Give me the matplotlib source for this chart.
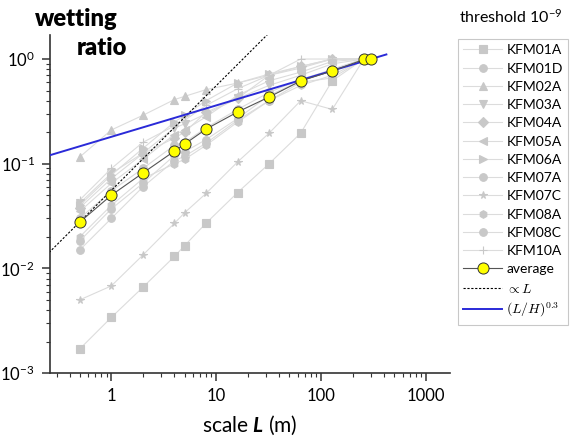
import numpy as np
import matplotlib
matplotlib.use('Agg')
import matplotlib.pyplot as plt
from matplotlib.font_manager import FontProperties
from matplotlib.ticker import LogLocator, FixedLocator, FixedFormatter, NullFormatter

plt.rcParams['font.family'] = ['Lato', 'DejaVu Sans']
plt.rcParams['mathtext.fontset'] = 'custom'
plt.rcParams['mathtext.rm'] = 'Lato'
plt.rcParams['mathtext.it'] = 'Lato:italic'
plt.rcParams['mathtext.bf'] = 'Lato:bold'
plt.rcParams['mathtext.bfit'] = 'Lato:bold:italic'

#scales (m)
L = [0.5, 1, 2, 4, 5, 8, 16, 32, 64, 128, 256]

#wetting ratio per borehole
wells = ['KFM01A', 'KFM01D', 'KFM02A', 'KFM03A', 'KFM04A', 'KFM05A',
         'KFM06A', 'KFM07A', 'KFM07C', 'KFM08A', 'KFM08C', 'KFM10A']
well_markers = ['s', 'o', '^', 'v', 'D', '<', '>', 'o', '*', 'h', 'o', '+']

kfm01a = [0.0017, 0.0034, 0.0066, 0.013, 0.0165, 0.027, 0.053, 0.10, 0.196, 0.62, 1.0]
kfm01d = [0.015, 0.030, 0.060, 0.107, 0.118, 0.157, 0.26, 0.40, 0.60, 0.66, 1.0]
kfm02a = [0.116, 0.21, 0.29, 0.41, 0.44, 0.51, 0.59, 0.70, 0.82, 1.0, 1.0]
kfm03a = [0.042, 0.081, 0.126, 0.22, 0.24, 0.30, 0.42, 0.56, 0.70, 0.90, 1.0]
kfm04a = [0.038, 0.072, 0.125, 0.176, 0.20, 0.31, 0.42, 0.70, 0.85, 1.0, 1.0]
kfm05a = [0.035, 0.065, 0.11, 0.19, 0.21, 0.28, 0.45, 0.62, 0.75, 0.95, 1.0]
kfm06a = [0.040, 0.078, 0.14, 0.25, 0.29, 0.40, 0.59, 0.72, 0.85, 1.0, 1.0]
kfm07a = [0.030, 0.055, 0.09, 0.15, 0.16, 0.22, 0.33, 0.48, 0.64, 0.79, 1.0]
kfm07c = [0.005, 0.0068, 0.0134, 0.027, 0.034, 0.052, 0.104, 0.196, 0.40, 0.33, 1.0]
kfm08a = [0.020, 0.040, 0.072, 0.10, 0.11, 0.15, 0.25, 0.40, 0.56, 0.70, 1.0]
kfm08c = [0.0183, 0.037, 0.065, 0.12, 0.13, 0.17, 0.27, 0.45, 0.62, 0.80, 1.0]
kfm10a = [0.045, 0.090, 0.16, 0.23, 0.26, 0.36, 0.52, 0.70, 1.0, 1.0, 1.0]

well_vals = [kfm01a, kfm01d, kfm02a, kfm03a, kfm04a, kfm05a,
             kfm06a, kfm07a, kfm07c, kfm08a, kfm08c, kfm10a]

#average over boreholes
L_avg = [0.5, 1, 2, 4, 5, 8, 16, 32, 64, 128, 256, 300]
avg = [0.0277, 0.050, 0.0815, 0.132, 0.154, 0.214, 0.312, 0.434, 0.617, 0.77, 0.99, 1.0]

#guide lines
H = 300.
prop_coef = 0.0556
L_prop = [0.2, 40]
L_pow = [0.2, 420]

fig = plt.figure(figsize=(5.84, 4.42), dpi=100)
ax = fig.add_axes([0.0856, 0.156, 0.685, 0.765])

for name, mk, vals in zip(wells, well_markers, well_vals):
    ax.plot(L, vals, color='#dcdcdc', lw=0.8, marker=mk, ms=5.5,
            mfc='#c8c8c8', mec='#c8c8c8', mew=0.8, label=name)

ax.plot(L_avg, avg, color='#555555', lw=0.8, marker='o', ms=8,
        mfc='#ffff00', mec='#333333', mew=0.7, label='average', zorder=5)

xp = np.array(L_prop)
ax.plot(xp, prop_coef*xp, color='black', lw=0.8, ls=(0, (2, 1.5)),
        label=r'$\propto L$', zorder=4)
xq = np.array(L_pow)
ax.plot(xq, (xq/H)**0.3, color='#2a2ad8', lw=1.4,
        label=r'$(L/H)^{0.3}$', zorder=4)

ax.set_xscale('log')
ax.set_yscale('log')
ax.set_xlim(0.26, 1700)
ax.set_ylim(1e-3, 1.7)

ax.spines['top'].set_visible(False)
ax.spines['right'].set_visible(False)
for s in ['left', 'bottom']:
    ax.spines[s].set_color('#333333')
    ax.spines[s].set_linewidth(1.2)

ax.xaxis.set_major_locator(FixedLocator([1, 10, 100, 1000]))
ax.xaxis.set_major_formatter(FixedFormatter(['1', '10', '100', '1000']))
ax.xaxis.set_minor_locator(LogLocator(base=10, subs=np.arange(2, 10)))
ax.xaxis.set_minor_formatter(NullFormatter())
ax.yaxis.set_major_locator(FixedLocator([1e-3, 1e-2, 1e-1, 1]))
ax.yaxis.set_major_formatter(FixedFormatter([r'10$^{-3}$', r'10$^{-2}$',
                                             r'10$^{-1}$', r'10$^{0}$']))
ax.yaxis.set_minor_locator(LogLocator(base=10, subs=np.arange(2, 10)))
ax.yaxis.set_minor_formatter(NullFormatter())
ax.tick_params(which='major', length=6, width=1.1, labelsize=12, color='#333333', pad=5)
ax.tick_params(which='minor', length=3, width=0.8, color='#333333')

ax.set_xlabel(r'scale $\boldsymbol{L}$ (m)', fontsize=15, labelpad=7)
fig.text(0.06, 0.957, 'wetting', fontsize=17, fontweight='heavy', ha='left', va='center')
fig.text(0.131, 0.892, 'ratio', fontsize=17, fontweight='heavy', ha='left', va='center')

leg_font = FontProperties(family=['Lato', 'DejaVu Sans'], size=10, math_fontfamily='cm')
leg = ax.legend(loc='upper left', bbox_to_anchor=(0.772, 0.928), bbox_transform=fig.transFigure,
                prop=leg_font, frameon=True, fancybox=False, edgecolor='#bbbbbb',
                handlelength=2.8, labelspacing=0.45, borderpad=0.4, handletextpad=0.3)
leg.get_frame().set_linewidth(0.8)
fig.text(0.874, 0.962, r'threshold 10$^{-9}$', fontsize=11.5, ha='center', va='center')

fig.savefig('out.png', dpi=100)
